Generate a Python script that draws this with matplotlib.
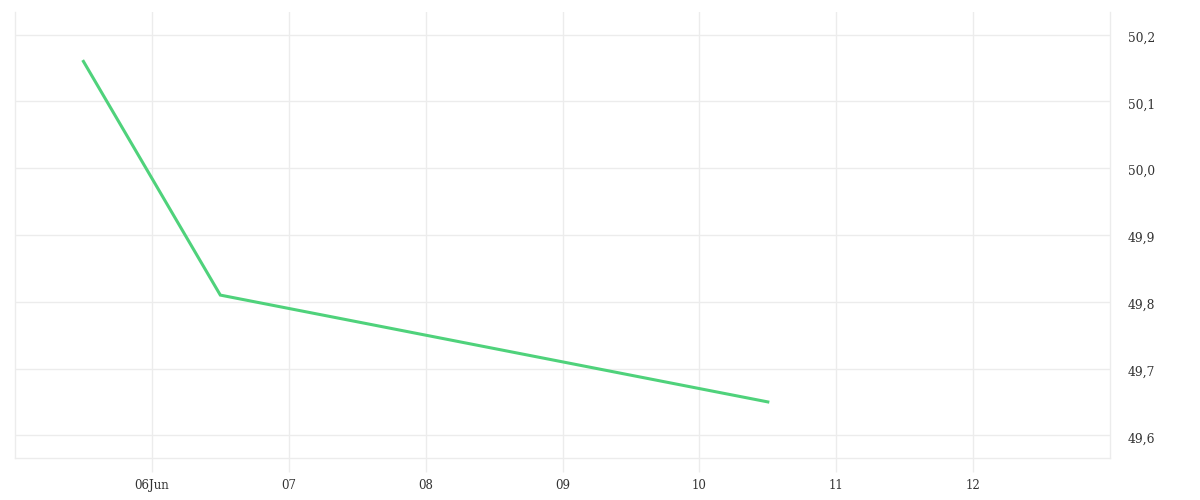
import numpy as np
import matplotlib
matplotlib.use('Agg')
import matplotlib.pyplot as plt
import matplotlib.dates as mdates
import matplotlib.transforms as mtransforms
from matplotlib.ticker import FuncFormatter, FixedLocator
from datetime import datetime

# data
dates = ['2023-06-05 12:00', '2023-06-06 12:00', '2023-06-07 12:00',
         '2023-06-08 12:00', '2023-06-09 12:00', '2023-06-10 12:00']
values = [50.16, 49.81, 49.77, 49.73, 49.69, 49.65]
tick_days = ['2023-06-06', '2023-06-07', '2023-06-08', '2023-06-09',
             '2023-06-10', '2023-06-11', '2023-06-12']
tick_labels = ['06Jun', '07', '08', '09', '10', '11', '12']
y_ticks = [49.6, 49.7, 49.8, 49.9, 50.0, 50.1, 50.2]

line_color = '#4fd27b'
grid_color = '#ececec'
text_color = '#333333'

plt.rcParams['font.family'] = ['DejaVu Serif']

x = [datetime.strptime(d, '%Y-%m-%d %H:%M') for d in dates]
xt = [datetime.strptime(d, '%Y-%m-%d') for d in tick_days]

fig = plt.figure(figsize=(12, 5), dpi=100)
ax = fig.add_axes([15/1200, 42/500, 1095/1200, 446/500])

ax.plot(x, values, color=line_color, linewidth=2.2, solid_joinstyle='miter')

ax.set_xlim(datetime(2023, 6, 5), datetime(2023, 6, 13))
ax.set_ylim(49.566, 50.234)

ax.xaxis.set_major_locator(FixedLocator(mdates.date2num(xt)))
ax.set_xticklabels(tick_labels)
ax.set_yticks(y_ticks)
ax.yaxis.set_major_formatter(FuncFormatter(lambda v, p: ('%.1f' % v).replace('.', ',')))
ax.yaxis.tick_right()

ax.grid(True, color=grid_color, linewidth=1)
ax.set_axisbelow(True)

ax.tick_params(axis='x', length=10, width=1, color=grid_color, pad=5,
               labelsize=8.5, labelcolor=text_color)
ax.tick_params(axis='y', length=0, pad=13, labelsize=8.8, labelcolor=text_color)

# y labels sit a little below their gridlines
shift = mtransforms.ScaledTranslation(0, -2/100, fig.dpi_scale_trans)
for lab in ax.get_yticklabels():
    lab.set_transform(lab.get_transform() + shift)

for s in ['left', 'right', 'bottom']:
    ax.spines[s].set_color(grid_color)
    ax.spines[s].set_linewidth(1)
ax.spines['top'].set_visible(False)

plt.savefig('out.png', dpi=100)
plt.close()
